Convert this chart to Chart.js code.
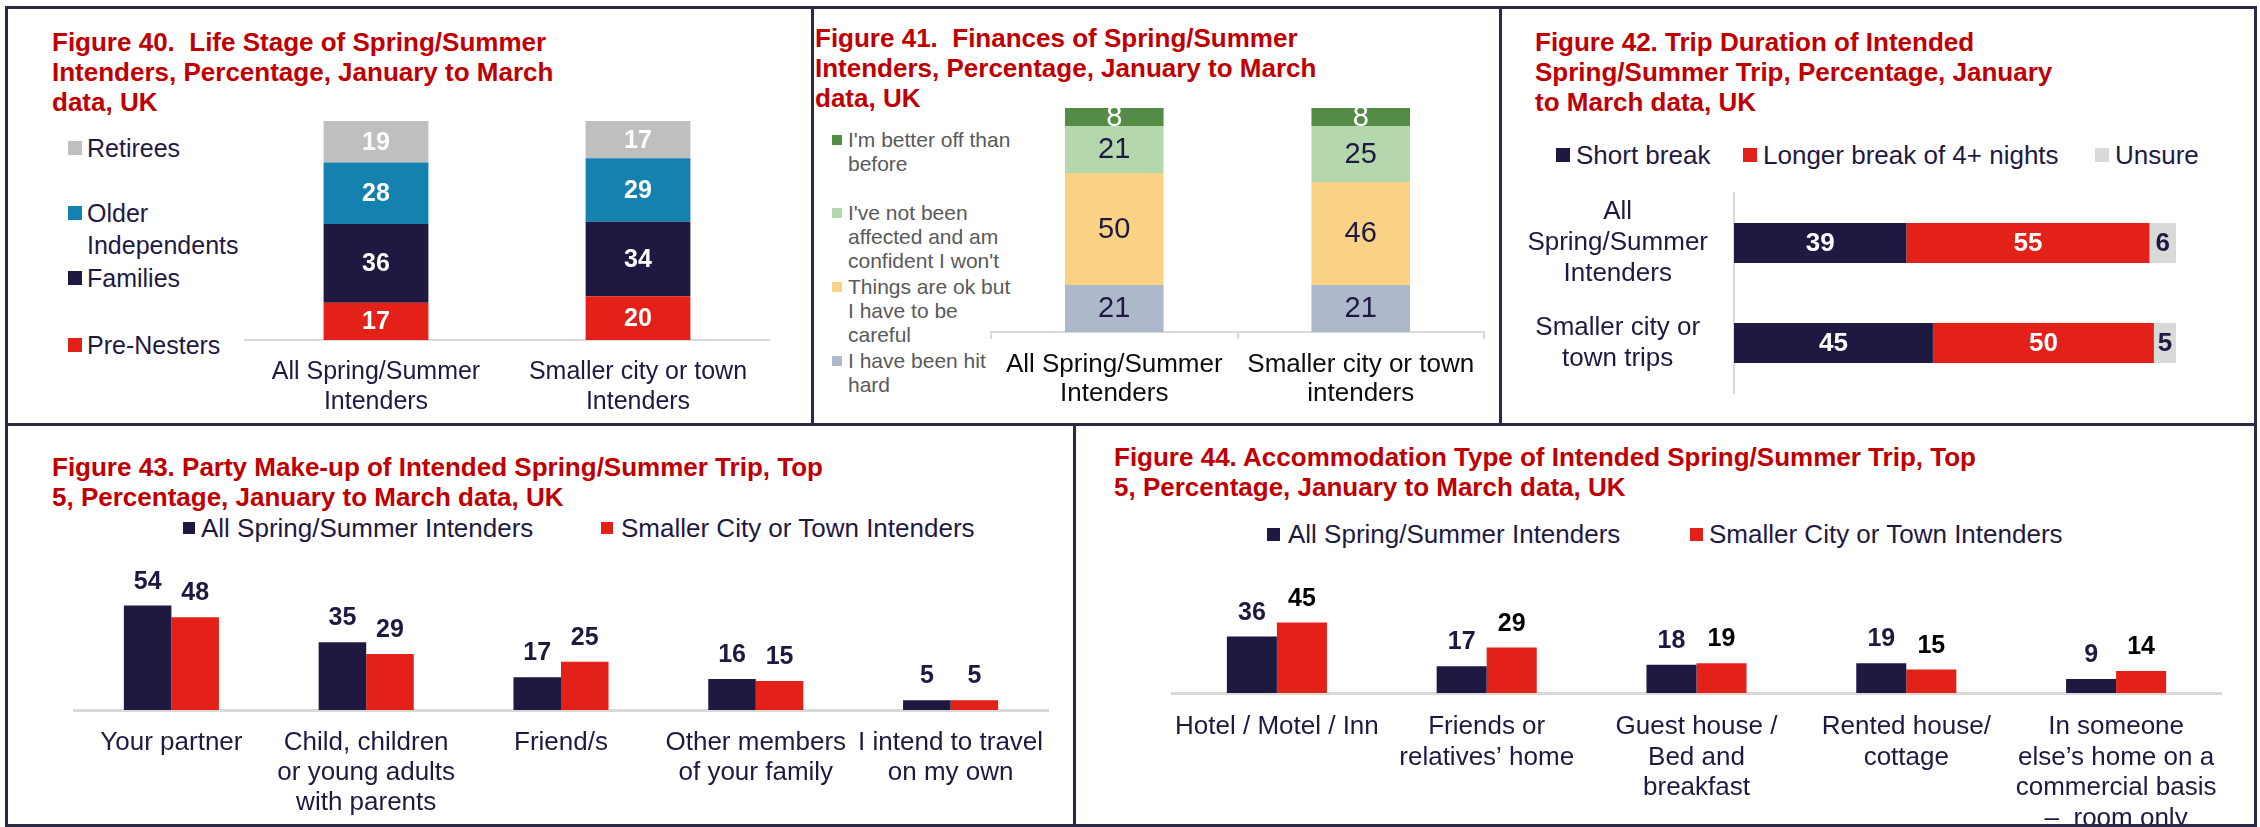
<!DOCTYPE html>
<html>
<head>
<meta charset="utf-8">
<script src="https://cdn.jsdelivr.net/npm/chart.js@4.4.1/dist/chart.umd.min.js"></script>
<style>
  body { margin: 0; background: #fff; }
  #page { position: relative; width: 2260px; height: 827px; overflow: hidden; font-family: "Liberation Sans", Arial, sans-serif; }
  .line { position: absolute; background: #2a2a44; }
  .title { position: absolute; color: #C00000; font-weight: bold; font-size: 26px; line-height: 30px; white-space: pre; }
  .leg { position: absolute; white-space: pre; }
  .box { position: absolute; }
  canvas { position: absolute; }
</style>
</head>
<body>
<div id="page"></div>
<script>
// Figure 40 - life stage
const lifeCats = [['All Spring/Summer', 'Intenders'], ['Smaller city or town', 'Intenders']];
const lifeSeries = ['Pre-Nesters', 'Families', 'Older\nIndependents', 'Retirees'];
const preNesters = [17, 20];
const families = [36, 34];
const olderIndep = [28, 29];
const retirees = [19, 17];

// Figure 41 - finances
const finCats = [['All Spring/Summer', 'Intenders'], ['Smaller city or town', 'intenders']];
const finSeries = ['I have been hit\nhard', 'Things are ok but\nI have to be\ncareful', "I've not been\naffected and am\nconfident I won't", "I'm better off than\nbefore"];
const hitHard = [21, 21];
const okCareful = [50, 46];
const notAffected = [21, 25];
const betterOff = [8, 8];

// Figure 42 - trip duration
const tripCats = [['All', 'Spring/Summer', 'Intenders'], ['Smaller city or', 'town trips']];
const tripSeries = ['Short break', 'Longer break of 4+ nights', 'Unsure'];
const shortBreak = [39, 45];
const longerBreak = [55, 50];
const unsure = [6, 5];

// Figure 43 - party make-up
const partyCats = [['Your partner'], ['Child, children', 'or young adults', 'with parents'], ['Friend/s'], ['Other members', 'of your family'], ['I intend to travel', 'on my own']];
const groupSeries = ['All Spring/Summer Intenders', 'Smaller City or Town Intenders'];
const partyAll = [54, 35, 17, 16, 5];
const partySmaller = [48, 29, 25, 15, 5];

// Figure 44 - accommodation
const accomCats = [['Hotel / Motel / Inn'], ['Friends or', 'relatives\u2019 home'], ['Guest house /', 'Bed and', 'breakfast'], ['Rented house/', 'cottage'], ['In someone', 'else\u2019s home on a', 'commercial basis', '\u2013  room only']];
const accomAll = [36, 17, 18, 19, 9];
const accomSmaller = [45, 29, 19, 15, 14];

const NAVY = '#1F1942';
const RED = '#E32119';
const FONT = '"Liberation Sans", Arial, sans-serif';
const page = document.getElementById('page');

Chart.defaults.font.family = FONT;
Chart.defaults.animation = false;
Chart.defaults.plugins.legend.display = false;
Chart.defaults.plugins.tooltip.enabled = false;

// frame lines
[[5, 6, 2252, 3], [5, 824, 2252, 3], [5, 6, 3, 821], [2254, 6, 3, 821], [5, 423, 2252, 3],
 [811, 6, 3, 420], [1499, 6, 3, 420], [1073, 423, 3, 404]].forEach(function (r) {
  var d = document.createElement('div');
  d.className = 'line';
  d.style.cssText = 'left:' + r[0] + 'px;top:' + r[1] + 'px;width:' + r[2] + 'px;height:' + r[3] + 'px';
  page.appendChild(d);
});

function title(x, y, text) {
  var d = document.createElement('div');
  d.className = 'title';
  d.style.left = x + 'px';
  d.style.top = y + 'px';
  d.textContent = text;
  page.appendChild(d);
}

function legendItem(sx, tx, cy, size, font, lh, color, boxColor, text) {
  var sq = document.createElement('div');
  sq.className = 'box';
  sq.style.cssText = 'left:' + sx + 'px;top:' + (cy - size / 2) + 'px;width:' + size + 'px;height:' + size + 'px;background:' + boxColor;
  page.appendChild(sq);
  var d = document.createElement('div');
  d.className = 'leg';
  d.style.cssText = 'left:' + tx + 'px;top:' + (cy - lh / 2) + 'px;font-size:' + font + 'px;line-height:' + lh + 'px;color:' + color;
  d.textContent = text;
  page.appendChild(d);
}

function makeCanvas(x, y, w, h) {
  var c = document.createElement('canvas');
  c.width = w; c.height = h;
  c.style.cssText = 'left:' + x + 'px;top:' + y + 'px;width:' + w + 'px;height:' + h + 'px';
  page.appendChild(c);
  return c.getContext('2d');
}

// value labels, inside stacked segments or above clustered bars
const valueLabels = {
  id: 'valueLabels',
  afterDatasetsDraw(chart, args, opts) {
    const ctx = chart.ctx;
    ctx.save();
    ctx.font = opts.font;
    ctx.textAlign = 'center';
    chart.data.datasets.forEach(function (ds, i) {
      chart.getDatasetMeta(i).data.forEach(function (bar, j) {
        ctx.fillStyle = ds.labelColor;
        if (opts.inside) {
          const p = bar.getCenterPoint();
          ctx.textBaseline = 'middle';
          ctx.fillText(ds.data[j], p.x, p.y + 1);
        } else {
          ctx.textBaseline = 'alphabetic';
          ctx.fillText(ds.data[j], bar.x, bar.y - opts.gap);
        }
      });
    });
    ctx.restore();
  }
};

// ---------- Figure 40 ----------
title(52, 27, 'Figure 40.  Life Stage of Spring/Summer\nIntenders, Percentage, January to March\ndata, UK');
const lifeColors = [RED, NAVY, '#1481AE', '#BFBFBF'];
const lifeLegY = [345, 278, 213, 148];
lifeSeries.forEach(function (s, i) {
  legendItem(68, 87, lifeLegY[i], 14, 25, 32, NAVY, lifeColors[i], s);
});
new Chart(makeCanvas(200, 100, 610, 320), {
  type: 'bar',
  data: {
    labels: lifeCats,
    datasets: [
      { label: lifeSeries[0], data: preNesters, backgroundColor: lifeColors[0], labelColor: '#fff' },
      { label: lifeSeries[1], data: families, backgroundColor: lifeColors[1], labelColor: '#fff' },
      { label: lifeSeries[2], data: olderIndep, backgroundColor: lifeColors[2], labelColor: '#fff' },
      { label: lifeSeries[3], data: retirees, backgroundColor: lifeColors[3], labelColor: '#fff' }
    ]
  },
  options: {
    responsive: false, devicePixelRatio: 1,
    layout: { padding: { left: 45, right: 41, top: 21, bottom: 0 } },
    datasets: { bar: { categoryPercentage: 0.4, barPercentage: 1 } },
    scales: {
      x: { stacked: true, grid: { display: false, drawTicks: false }, border: { color: '#D9D9D9', width: 2 },
           ticks: { color: NAVY, font: { size: 25, lineHeight: 1.2 }, padding: 17, autoSkip: false, maxRotation: 0 },
           afterFit: function (s) { s.height = 80; } },
      y: { stacked: true, display: false, min: 0, max: 100 }
    },
    plugins: { valueLabels: { inside: true, font: 'bold 25px ' + FONT } }
  },
  plugins: [valueLabels]
});

// ---------- Figure 41 ----------
title(815, 23, 'Figure 41.  Finances of Spring/Summer\nIntenders, Percentage, January to March\ndata, UK');
const finColors = ['#ADB9CA', '#F9D286', '#B5D7AE', '#548B46'];
const finLegY = [361, 287, 213, 140];
finSeries.forEach(function (s, i) {
  legendItem(832, 848, finLegY[i], 10, 21, 24, '#595959', finColors[i], s);
});
new Chart(makeCanvas(900, 95, 598, 325), {
  type: 'bar',
  data: {
    labels: finCats,
    datasets: [
      { label: finSeries[0], data: hitHard, backgroundColor: finColors[0], labelColor: NAVY },
      { label: finSeries[1], data: okCareful, backgroundColor: finColors[1], labelColor: NAVY },
      { label: finSeries[2], data: notAffected, backgroundColor: finColors[2], labelColor: NAVY },
      { label: finSeries[3], data: betterOff, backgroundColor: finColors[3], labelColor: '#fff' }
    ]
  },
  options: {
    responsive: false, devicePixelRatio: 1,
    layout: { padding: { left: 91, right: 14, top: 13, bottom: 0 } },
    datasets: { bar: { categoryPercentage: 0.4, barPercentage: 1 } },
    scales: {
      x: { stacked: true,
           grid: { display: true, drawOnChartArea: false, drawTicks: true, tickLength: 7, color: '#D9D9D9', lineWidth: 2, offset: true },
           border: { color: '#D9D9D9', width: 2 },
           ticks: { color: '#0D0D0D', font: { size: 26, lineHeight: 1.12 }, padding: 11, autoSkip: false, maxRotation: 0 },
           afterFit: function (s) { s.height = 88; } },
      y: { stacked: true, display: false, min: 0, max: 100 }
    },
    plugins: { valueLabels: { inside: true, font: '29px ' + FONT } }
  },
  plugins: [valueLabels]
});

// ---------- Figure 42 ----------
title(1535, 27, 'Figure 42. Trip Duration of Intended\nSpring/Summer Trip, Percentage, January\nto March data, UK');
const tripColors = [NAVY, RED, '#D9D9D9'];
const tripLegBox = [1556, 1743, 2095];
const tripLegText = [1576, 1763, 2115];
tripSeries.forEach(function (s, i) {
  legendItem(tripLegBox[i], tripLegText[i], 155, 14, 26, 30, NAVY, tripColors[i], s);
});
new Chart(makeCanvas(1505, 180, 740, 230), {
  type: 'bar',
  data: {
    labels: tripCats,
    datasets: [
      { label: tripSeries[0], data: shortBreak, backgroundColor: tripColors[0], labelColor: '#fff' },
      { label: tripSeries[1], data: longerBreak, backgroundColor: tripColors[1], labelColor: '#fff' },
      { label: tripSeries[2], data: unsure, backgroundColor: tripColors[2], labelColor: NAVY }
    ]
  },
  options: {
    indexAxis: 'y',
    responsive: false, devicePixelRatio: 1,
    layout: { padding: { left: 0, right: 69, top: 13, bottom: 17 } },
    datasets: { bar: { categoryPercentage: 0.4, barPercentage: 1 } },
    scales: {
      x: { stacked: true, display: false, min: 0, max: 100 },
      y: { stacked: true, grid: { display: false, drawTicks: false }, border: { color: '#D9D9D9', width: 2 },
           ticks: { color: NAVY, font: { size: 26, lineHeight: 1.2 }, padding: 26, crossAlign: 'center', autoSkip: false },
           afterFit: function (s) { s.width = 229; s.paddingTop = 0; s.paddingBottom = 0; } }
    },
    plugins: { valueLabels: { inside: true, font: 'bold 26px ' + FONT } }
  },
  plugins: [valueLabels]
});

// ---------- Figure 43 ----------
title(52, 452, 'Figure 43. Party Make-up of Intended Spring/Summer Trip, Top\n5, Percentage, January to March data, UK');
legendItem(183, 201, 528, 12, 26, 30, NAVY, NAVY, groupSeries[0]);
legendItem(601, 621, 528, 12, 26, 30, NAVY, RED, groupSeries[1]);
new Chart(makeCanvas(12, 560, 1055, 262), {
  type: 'bar',
  data: {
    labels: partyCats,
    datasets: [
      { label: groupSeries[0], data: partyAll, backgroundColor: NAVY, labelColor: NAVY },
      { label: groupSeries[1], data: partySmaller, backgroundColor: RED, labelColor: NAVY }
    ]
  },
  options: {
    responsive: false, devicePixelRatio: 1,
    layout: { padding: { left: 62, right: 19, top: 34, bottom: 0 } },
    datasets: { bar: { categoryPercentage: 0.488, barPercentage: 1 } },
    scales: {
      x: { grid: { display: false, drawTicks: false }, border: { color: '#D9D9D9', width: 3 },
           ticks: { color: NAVY, font: { size: 26, lineHeight: 1.15 }, padding: 18, autoSkip: false, maxRotation: 0 },
           afterFit: function (s) { s.height = 112; } },
      y: { display: false, min: 0, max: 60 }
    },
    plugins: { valueLabels: { inside: false, gap: 17, font: 'bold 25px ' + FONT } }
  },
  plugins: [valueLabels]
});

// ---------- Figure 44 ----------
title(1114, 442, 'Figure 44. Accommodation Type of Intended Spring/Summer Trip, Top\n5, Percentage, January to March data, UK');
legendItem(1267, 1288, 534, 13, 26, 30, NAVY, NAVY, groupSeries[0]);
legendItem(1690, 1709, 534, 13, 26, 30, NAVY, RED, groupSeries[1]);
new Chart(makeCanvas(1080, 565, 1170, 259), {
  type: 'bar',
  data: {
    labels: accomCats,
    datasets: [
      { label: groupSeries[0], data: accomAll, backgroundColor: NAVY, labelColor: NAVY },
      { label: groupSeries[1], data: accomSmaller, backgroundColor: RED, labelColor: '#000' }
    ]
  },
  options: {
    responsive: false, devicePixelRatio: 1,
    layout: { padding: { left: 92, right: 29, top: 34, bottom: 0 } },
    datasets: { bar: { categoryPercentage: 0.477, barPercentage: 1 } },
    scales: {
      x: { grid: { display: false, drawTicks: false }, border: { color: '#D9D9D9', width: 3 },
           ticks: { color: NAVY, font: { size: 26, lineHeight: 1.17 }, padding: 19, autoSkip: false, maxRotation: 0 },
           afterFit: function (s) { s.height = 131; } },
      y: { display: false, min: 0, max: 60 }
    },
    plugins: { valueLabels: { inside: false, gap: 17, font: 'bold 25px ' + FONT } }
  },
  plugins: [valueLabels]
});
</script>
</body>
</html>
